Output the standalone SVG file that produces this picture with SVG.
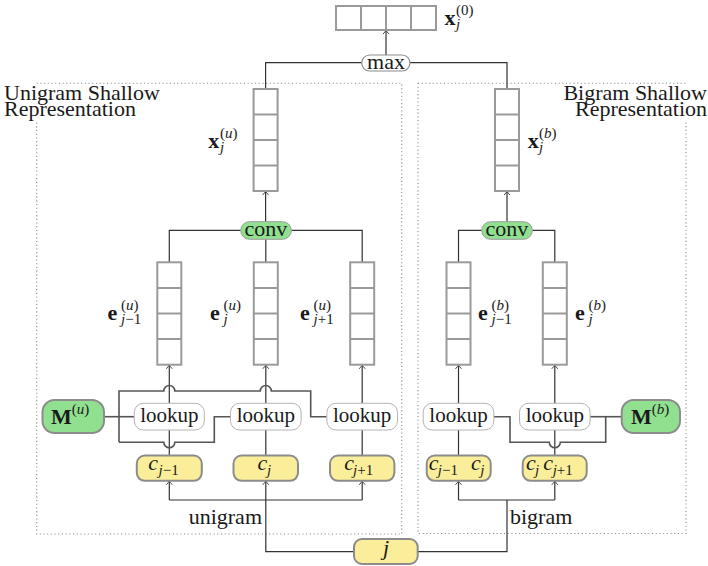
<svg xmlns="http://www.w3.org/2000/svg" width="708" height="566" viewBox="0 0 708 566" font-family="'Liberation Serif', 'DejaVu Serif', serif">
  <defs>
    <marker id="tip" viewBox="-5 -4 6 8" refX="0" refY="0" markerWidth="6" markerHeight="8" markerUnits="userSpaceOnUse" orient="auto">
      <path d="M-3.6,-3 Q-1.2,-0.9 0,0 Q-1.2,0.9 -3.6,3" fill="none" stroke="#333" stroke-width="0.9"/>
    </marker>
    <style>
      text { font-family: 'Liberation Serif', 'DejaVu Serif', serif; fill: #1a1a1a; font-size: 22px; }
      .lk { font-size: 21px; text-anchor: middle; }
      .b { font-weight: bold; }
      .i { font-style: italic; }
      .s { font-size: 15px; }
      .region { fill: none; stroke: #8a8a8a; stroke-width: 1.1; stroke-dasharray: 1.1 2.6; }
      .vec { fill: #fff; stroke: #9a9a9a; stroke-width: 2; }
      .cell { stroke: #9a9a9a; stroke-width: 2; }
      .wire { fill: none; stroke: #333; stroke-width: 1.2; }
      .arrow { fill: none; stroke: #333; stroke-width: 1.2; marker-end: url(#tip); }
      .mwire { fill: none; stroke: #555; stroke-width: 1.6; }
      .green { fill: #90e090; stroke: #8c8c8c; stroke-width: 2; }
      .op { fill: #90e090; stroke: #9c9c9c; stroke-width: 1; }
      .pool { fill: #fff; stroke: #8c8c8c; stroke-width: 1.2; }
      .look { fill: #fff; stroke: #b4b4b4; stroke-width: 1; }
      .char { fill: #faee9b; stroke: #8c8c8c; stroke-width: 2; }
    </style>
  </defs>

  <rect width="708" height="566" fill="#fff"/>

  <!-- dotted regions with their titles -->
  <g id="unigram-region">
    <rect class="region" x="36.7" y="83.3" width="365" height="450.7"/>
    <rect x="2" y="85" width="160" height="36" fill="#fff"/>
    <text x="4" y="100">Unigram Shallow<tspan x="4" dy="15.5">Representation</tspan></text>
  </g>
  <g id="bigram-region">
    <rect class="region" x="418" y="83.3" width="268" height="450.2"/>
    <rect x="548" y="85" width="160" height="36" fill="#fff"/>
    <text x="707" y="100" text-anchor="end">Bigram Shallow<tspan x="707" dy="15.5">Representation</tspan></text>
  </g>

  <!-- connectors -->
  <g id="connectors">
    <!-- max pooling -->
    <path class="arrow" d="M386,55 V30.5"/>
    <path class="wire" d="M265.6,89 V62.7 H361.7 M410,62.7 H507 V89"/>
    <!-- conv outputs -->
    <path class="arrow" d="M265.6,221.7 V191.5"/>
    <path class="arrow" d="M507,221.7 V191.5"/>
    <!-- embeddings into conv -->
    <path class="wire" d="M169.3,262.3 V230.3 H240.7 M362.2,262.3 V230.3 H291.3 M265.8,262.3 V239.3"/>
    <path class="wire" d="M458.5,262.3 V230.3 H481.7 M554.8,262.3 V230.3 H532.3"/>
    <!-- lookups into embeddings -->
    <path class="arrow" d="M169.3,403.3 V365.2"/>
    <path class="arrow" d="M265.8,403.3 V365.2"/>
    <path class="arrow" d="M362.2,403.3 V365.2"/>
    <path class="arrow" d="M458.5,403.3 V365.2"/>
    <path class="arrow" d="M554.8,403.3 V365.2"/>
    <!-- characters into lookups -->
    <path class="wire" d="M169.3,430 V455.5 M265.8,430 V455.5 M362.2,430 V455.5 M458.5,430 V455.5 M554.8,430 V455.5"/>
    <!-- unigram table feeding the lookups -->
    <path class="mwire" d="M104,416.7 H134.3"/>
    <path class="mwire" d="M119,442.3 V391 H163.8 A5.5,5.5 0 0 1 174.8,391 H260.3 A5.5,5.5 0 0 1 271.3,391 H310.7 V416.7 H326.7"/>
    <path class="mwire" d="M119,442.3 H163.8 A5.5,5.5 0 0 0 174.8,442.3 H214.3 V416.7 H230"/>
    <!-- bigram table feeding the lookups -->
    <path class="mwire" d="M621.7,416.7 H590"/>
    <path class="mwire" d="M605.7,416.7 V442.3 H560.3 A5.5,5.5 0 0 1 549.3,442.3 H510 V416.7 H494"/>
    <!-- position j into characters -->
    <path class="wire" d="M169.3,500 H362.2"/>
    <path class="arrow" d="M169.3,500 V481.2"/>
    <path class="arrow" d="M362.2,500 V481.2"/>
    <path class="arrow" d="M354,551.7 H265.8 V481.2"/>
    <path class="wire" d="M458.5,500 H554.8 M417.7,551.7 H507 V500"/>
    <path class="arrow" d="M458.5,500 V481.2"/>
    <path class="arrow" d="M554.8,500 V481.2"/>
    <text x="262" y="524.3" text-anchor="end">unigram</text>
    <text x="510" y="523.5">bigram</text>
  </g>

  <!-- output vector -->
  <g id="x0">
    <rect class="vec" x="336" y="6" width="100" height="24"/>
    <path class="cell" d="M361,6 V30 M386,6 V30 M411,6 V30"/>
    <text x="444.5" y="25"><tspan class="b">x</tspan><tspan class="s" x="456" y="14.5">(0)</tspan><tspan class="s i" x="456" y="28.5">j</tspan></text>
  </g>

  <g id="max">
    <rect class="pool" x="361.7" y="55" width="48.3" height="16" rx="8"/>
    <text x="386" y="68.5" text-anchor="middle">max</text>
  </g>

  <!-- shallow representations -->
  <g id="xu">
    <rect class="vec" x="253.6" y="89" width="24" height="102"/>
    <path class="cell" d="M253.6,114.5 H277.6 M253.6,140 H277.6 M253.6,165.5 H277.6"/>
    <text x="208.3" y="148"><tspan class="b">x</tspan><tspan class="s" x="220" y="137.5">(<tspan class="i">u</tspan>)</tspan><tspan class="s i" x="220" y="151.5">j</tspan></text>
  </g>
  <g id="xb">
    <rect class="vec" x="495" y="89" width="24" height="102"/>
    <path class="cell" d="M495,114.5 H519 M495,140 H519 M495,165.5 H519"/>
    <text x="527.7" y="148"><tspan class="b">x</tspan><tspan class="s" x="539" y="137.5">(<tspan class="i">b</tspan>)</tspan><tspan class="s i" x="539" y="151.5">j</tspan></text>
  </g>

  <g id="conv-u">
    <rect class="op" x="240.7" y="221.7" width="50.6" height="17.6" rx="8.8"/>
    <text x="266" y="235.5" text-anchor="middle">conv</text>
  </g>
  <g id="conv-b">
    <rect class="op" x="481.7" y="221.7" width="50.6" height="17.6" rx="8.8"/>
    <text x="507" y="235.5" text-anchor="middle">conv</text>
  </g>

  <!-- embedding vectors -->
  <g id="eu-prev">
    <rect class="vec" x="157.3" y="262.3" width="24" height="102.4"/>
    <path class="cell" d="M157.3,288 H181.3 M157.3,313.5 H181.3 M157.3,339 H181.3"/>
    <text x="107.5" y="320"><tspan class="b">e</tspan><tspan class="s" x="121" y="309.5">(<tspan class="i">u</tspan>)</tspan><tspan class="s" x="121" y="324"><tspan class="i">j</tspan>−1</tspan></text>
  </g>
  <g id="eu-cur">
    <rect class="vec" x="253.8" y="262.3" width="24" height="102.4"/>
    <path class="cell" d="M253.8,288 H277.8 M253.8,313.5 H277.8 M253.8,339 H277.8"/>
    <text x="210" y="320"><tspan class="b">e</tspan><tspan class="s" x="223.5" y="309.5">(<tspan class="i">u</tspan>)</tspan><tspan class="s i" x="223.5" y="324">j</tspan></text>
  </g>
  <g id="eu-next">
    <rect class="vec" x="350.2" y="262.3" width="24" height="102.4"/>
    <path class="cell" d="M350.2,288 H374.2 M350.2,313.5 H374.2 M350.2,339 H374.2"/>
    <text x="300" y="320"><tspan class="b">e</tspan><tspan class="s" x="313.5" y="309.5">(<tspan class="i">u</tspan>)</tspan><tspan class="s" x="313.5" y="324"><tspan class="i">j</tspan>+1</tspan></text>
  </g>
  <g id="eb-prev">
    <rect class="vec" x="446.5" y="262.3" width="24" height="102.4"/>
    <path class="cell" d="M446.5,288 H470.5 M446.5,313.5 H470.5 M446.5,339 H470.5"/>
    <text x="478" y="320"><tspan class="b">e</tspan><tspan class="s" x="491.5" y="309.5">(<tspan class="i">b</tspan>)</tspan><tspan class="s" x="491.5" y="324"><tspan class="i">j</tspan>−1</tspan></text>
  </g>
  <g id="eb-cur">
    <rect class="vec" x="542.8" y="262.3" width="24" height="102.4"/>
    <path class="cell" d="M542.8,288 H566.8 M542.8,313.5 H566.8 M542.8,339 H566.8"/>
    <text x="575" y="320"><tspan class="b">e</tspan><tspan class="s" x="588.5" y="309.5">(<tspan class="i">b</tspan>)</tspan><tspan class="s i" x="588.5" y="324">j</tspan></text>
  </g>

  <!-- embedding tables -->
  <g id="Mu">
    <rect class="green" x="42.5" y="400" width="61.5" height="33" rx="12"/>
    <text x="51" y="424"><tspan class="b">M</tspan><tspan class="s" y="414">(<tspan class="i">u</tspan>)</tspan></text>
  </g>
  <g id="Mb">
    <rect class="green" x="621.7" y="400" width="58.3" height="33" rx="12"/>
    <text x="631" y="424"><tspan class="b">M</tspan><tspan class="s" y="414">(<tspan class="i">b</tspan>)</tspan></text>
  </g>

  <!-- lookups -->
  <g id="lookup-u1">
    <rect class="look" x="134.3" y="403.3" width="70" height="26.7" rx="9"/>
    <text class="lk" x="169.3" y="422.3">lookup</text>
  </g>
  <g id="lookup-u2">
    <rect class="look" x="230.5" y="403.3" width="70.6" height="26.7" rx="9"/>
    <text class="lk" x="265.8" y="422.3">lookup</text>
  </g>
  <g id="lookup-u3">
    <rect class="look" x="326.9" y="403.3" width="70.6" height="26.7" rx="9"/>
    <text class="lk" x="362.2" y="422.3">lookup</text>
  </g>
  <g id="lookup-b1">
    <rect class="look" x="423.2" y="403.3" width="70.6" height="26.7" rx="9"/>
    <text class="lk" x="458.5" y="422.3">lookup</text>
  </g>
  <g id="lookup-b2">
    <rect class="look" x="519.5" y="403.3" width="70.6" height="26.7" rx="9"/>
    <text class="lk" x="554.8" y="422.3">lookup</text>
  </g>

  <!-- characters -->
  <g id="c-prev">
    <rect class="char" x="136.8" y="455.5" width="65" height="25.3" rx="8"/>
    <text x="148.3" y="470"><tspan class="i">c</tspan><tspan class="s" x="158.5" y="474.5"><tspan class="i">j</tspan>−1</tspan></text>
  </g>
  <g id="c-cur">
    <rect class="char" x="233.5" y="455.5" width="64.5" height="25.3" rx="8"/>
    <text x="257.5" y="470"><tspan class="i">c</tspan><tspan class="s i" x="267" y="474.5">j</tspan></text>
  </g>
  <g id="c-next">
    <rect class="char" x="330" y="455.5" width="64.4" height="25.3" rx="8"/>
    <text x="344.3" y="470"><tspan class="i">c</tspan><tspan class="s" x="353" y="474.5"><tspan class="i">j</tspan>+1</tspan></text>
  </g>
  <g id="bi-prev">
    <rect class="char" x="426.7" y="455.5" width="64" height="25.3" rx="8"/>
    <text x="428.8" y="470"><tspan class="i">c</tspan><tspan class="s" x="437.8" y="474.5"><tspan class="i">j</tspan>−1</tspan><tspan class="i" x="471" y="470">c</tspan><tspan class="s i" x="480.3" y="474.5">j</tspan></text>
  </g>
  <g id="bi-next">
    <rect class="char" x="522.7" y="455.5" width="64" height="25.3" rx="8"/>
    <text x="526" y="470"><tspan class="i">c</tspan><tspan class="s i" x="535" y="474.5">j</tspan><tspan class="i" x="543.3" y="470">c</tspan><tspan class="s" x="552.7" y="474.5"><tspan class="i">j</tspan>+1</tspan></text>
  </g>

  <g id="j">
    <rect class="char" x="354" y="539" width="63.7" height="25" rx="8"/>
    <text class="i" x="386" y="555" text-anchor="middle">j</text>
  </g>
</svg>
